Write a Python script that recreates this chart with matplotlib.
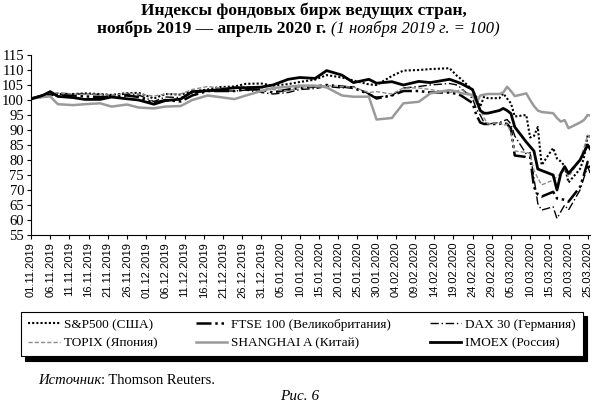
import numpy as np
import pandas as pd
import matplotlib
matplotlib.use('Agg')
import matplotlib.pyplot as plt
import matplotlib.dates as mdates

# dates (trading days)
dates = pd.to_datetime([
    '2019-11-01', '2019-11-04', '2019-11-06', '2019-11-08', '2019-11-12', '2019-11-15',
    '2019-11-19', '2019-11-22', '2019-11-26', '2019-11-29',
    '2019-12-03', '2019-12-06', '2019-12-10', '2019-12-13', '2019-12-17', '2019-12-20',
    '2019-12-24', '2019-12-27', '2019-12-31',
    '2020-01-03', '2020-01-07', '2020-01-10', '2020-01-14', '2020-01-17', '2020-01-21',
    '2020-01-24', '2020-01-28', '2020-01-30',
    '2020-02-03', '2020-02-06', '2020-02-10', '2020-02-13', '2020-02-18', '2020-02-20',
    '2020-02-21', '2020-02-24', '2020-02-25', '2020-02-26', '2020-02-27', '2020-02-28',
    '2020-03-02', '2020-03-03', '2020-03-04', '2020-03-05', '2020-03-06', '2020-03-09',
    '2020-03-10', '2020-03-11', '2020-03-12', '2020-03-13', '2020-03-16', '2020-03-17',
    '2020-03-18', '2020-03-19', '2020-03-20', '2020-03-23', '2020-03-24', '2020-03-25',
    '2020-03-26',
])

sp500 = [100.5, 101.0, 101.5, 102.0, 102.0, 102.2, 102.0, 101.7, 102.3, 102.4,
         100.5, 102.0, 101.8, 102.8, 103.5, 104.3, 104.5, 105.4, 105.5,
         104.8, 105.3, 106.0, 106.8, 108.3, 107.5, 106.5, 105.2, 105.0,
         108.0, 109.8, 110.0, 110.3, 110.6, 108.0, 107.0, 103.3, 101.0, 97.8, 101.1, 100.6,
         100.6, 102.2, 100.5, 98.9, 94.5, 95.0, 87.5, 88.0, 91.0, 78.3, 84.0, 80.5,
         79.5, 78.0, 72.5, 77.0, 80.5, 88.3, 87.5]
ftse = [100.5, 101.5, 101.8, 101.5, 101.5, 101.2, 101.0, 101.0, 101.5, 101.0,
        99.0, 100.0, 99.5, 101.5, 103.0, 103.0, 103.0, 103.5, 103.5,
        102.5, 103.5, 104.0, 104.5, 105.0, 104.5, 104.0, 102.0, 100.5,
        101.5, 103.0, 103.0, 102.5, 102.5, 102.0, 101.5, 99.0, 95.0, 92.5, 92.0, 92.0,
        92.0, 92.5, 92.0, 90.5, 81.5, 81.0, 81.0, 71.0, 68.5, 67.8, 69.4, 67.2,
        67.0, 66.7, 66.1, 71.0, 75.0, 79.4, 75.0]
dax = [100.5, 101.5, 102.0, 102.3, 102.0, 102.0, 101.8, 101.5, 102.0, 101.7,
       99.5, 101.0, 100.8, 102.2, 103.0, 103.0, 103.0, 103.3, 102.5,
       102.0, 102.5, 103.5, 103.8, 104.5, 104.0, 104.5, 102.0, 101.0,
       101.5, 104.0, 104.5, 105.0, 105.5, 105.0, 104.0, 100.5, 97.0, 95.0, 92.5, 92.0,
       92.5, 93.0, 93.5, 92.0, 88.0, 82.0, 82.5, 74.0, 65.5, 63.3, 64.4, 60.5,
       62.8, 65.0, 63.3, 70.0, 74.0, 77.8, 74.4]
topix = [100.5, 101.5, 102.5, 102.3, 102.0, 101.8, 102.0, 101.5, 102.3, 102.0,
         101.3, 102.0, 102.0, 103.5, 104.5, 104.0, 104.2, 104.5, 104.0,
         103.5, 103.0, 104.3, 104.5, 104.8, 104.5, 104.3, 102.5, 102.8,
         102.0, 104.0, 104.0, 103.5, 102.5, 103.0, 103.5, 101.5, 99.0, 97.0, 94.0, 92.0,
         92.5, 91.5, 92.0, 89.0, 83.0, 82.5, 82.2, 76.5, 74.0, 71.7, 73.3, 74.5,
         75.5, 76.7, 74.4, 80.0, 84.0, 88.3, 87.2]
shanghai = [100.5, 101.0, 101.2, 98.6, 98.3, 98.6, 98.9, 97.8, 98.5, 97.5,
            97.2, 97.8, 98.0, 100.0, 101.5, 101.0, 100.3, 101.5, 103.0,
            104.0, 104.4, 104.8, 104.8, 104.2, 101.5, 101.1, 101.1, 93.5,
            94.0, 98.9, 99.4, 102.2, 103.3, 102.8, 102.3, 101.7, 99.0, 101.5, 101.8, 102.0,
            102.0, 102.5, 104.4, 103.0, 101.3, 102.2, 100.0, 98.0, 96.5, 96.0, 95.6, 94.0,
            92.8, 93.3, 90.6, 92.5, 93.3, 95.0, 94.7]
imoex = [100.3, 101.5, 102.8, 101.2, 100.8, 100.2, 100.2, 101.0, 100.4, 100.0,
         98.6, 99.8, 100.3, 102.8, 103.1, 103.4, 104.1, 104.1, 104.3,
         105.0, 106.9, 107.5, 107.2, 109.8, 108.3, 105.8, 106.9, 105.6,
         106.1, 105.0, 106.2, 105.8, 106.9, 106.0, 105.5, 103.5, 100.0, 96.5, 95.6, 95.6,
         96.5, 97.2, 96.5, 95.5, 91.0, 86.0, 84.5, 83.0, 77.0, 76.5, 75.0, 70.0,
         75.5, 77.8, 75.5, 80.0, 82.5, 85.0, 83.0]

serif = 'Liberation Serif'
sans = 'Liberation Sans'

fig = plt.figure(figsize=(5.95, 4.05), dpi=100)
ax = fig.add_axes([31 / 595, 1 - 235 / 405, 559 / 595, 180 / 405])

h_sp, = ax.plot(dates, sp500, color='black', lw=1.5, ls=(0, (1, 1)), label='S&P500 (США)')
h_ft, = ax.plot(dates, ftse, color='black', lw=1.8, ls=(0, (6, 1.5, 1, 1.5, 1, 1.5)),
                label='FTSE 100 (Великобритания)')
h_dx, = ax.plot(dates, dax, color='black', lw=1.0, ls=(0, (6, 2, 1, 2)), label='DAX 30 (Германия)')
h_tp, = ax.plot(dates, topix, color='#8c8c8c', lw=1.0, ls=(0, (3, 1.5)), label='TOPIX (Япония)')
h_sh, = ax.plot(dates, shanghai, color='#9a9a9a', lw=1.8, label='SHANGHAI A (Китай)')
h_im, = ax.plot(dates, imoex, color='black', lw=2.0, label='IMOEX (Россия)', zorder=5)

start = pd.Timestamp('2019-11-01')
ax.set_xlim(start, start + pd.Timedelta(days=145.6))
ax.set_ylim(55, 115)
ax.set_yticks(np.arange(55, 116, 5))
ticks = pd.date_range('2019-11-01', '2020-03-25', freq='5D')
ax.set_xticks(ticks)
ax.xaxis.set_major_formatter(mdates.DateFormatter('%d.%m.%Y'))
for lab in ax.get_xticklabels():
    lab.set_rotation(90)
    lab.set_fontfamily(sans)
    lab.set_fontsize(8)
for lab in ax.get_yticklabels():
    lab.set_fontfamily(serif)
    lab.set_fontsize(10.5)
ax.tick_params(axis='both', direction='out', length=3, width=0.8, pad=2)
ax.spines['top'].set_visible(False)
ax.spines['right'].set_visible(False)

leg = fig.legend(handles=[h_sp, h_tp, h_ft, h_sh, h_dx, h_im], ncol=3,
                 loc='center', bbox_to_anchor=(302 / 595, 1 - 334 / 405),
                 prop={'family': serif, 'size': 9.5}, frameon=True, fancybox=False,
                 edgecolor='black', framealpha=1, handlelength=2.4, handletextpad=0.3,
                 columnspacing=2.9, labelspacing=0.45, borderpad=0.55, borderaxespad=0,
                 shadow={'color': 'black', 'alpha': 1, 'ox': 3, 'oy': -3})
leg.get_frame().set_linewidth(0.8)

# title and captions, pieces laid out side by side
fig.text(304 / 595, 1 - 11 / 405, 'Индексы фондовых бирж ведущих стран,', ha='center', va='center',
         family=serif, weight='bold', fontsize=12.5)
fig.canvas.draw()
r = fig.canvas.get_renderer()
t1 = fig.text(0, 1 - 29 / 405, 'ноябрь 2019 — апрель 2020 г.', ha='left', va='center',
              family=serif, weight='bold', fontsize=12.5)
t2 = fig.text(0, 1 - 29 / 405, '(1 ноября 2019 г. = 100)', ha='left', va='center',
              family=serif, style='italic', fontsize=12)
w1 = t1.get_window_extent(r).width
w2 = t2.get_window_extent(r).width
x0 = 298 - (w1 + w2 + 5) / 2
t1.set_x(x0 / 595)
t2.set_x((x0 + w1 + 5) / 595)

s1 = fig.text(38 / 595, 1 - 381 / 405, 'Источник', ha='left', va='center',
              family=serif, style='italic', fontsize=10.5)
ws = s1.get_window_extent(r).width
fig.text((38 + ws) / 595, 1 - 381 / 405, ': Thomson Reuters.', ha='left', va='center',
         family=serif, fontsize=10.5)
fig.text(300 / 595, 1 - 397 / 405, 'Рис. 6', ha='center', va='center',
         family=serif, style='italic', fontsize=11)

fig.savefig('out.png', dpi=100)
